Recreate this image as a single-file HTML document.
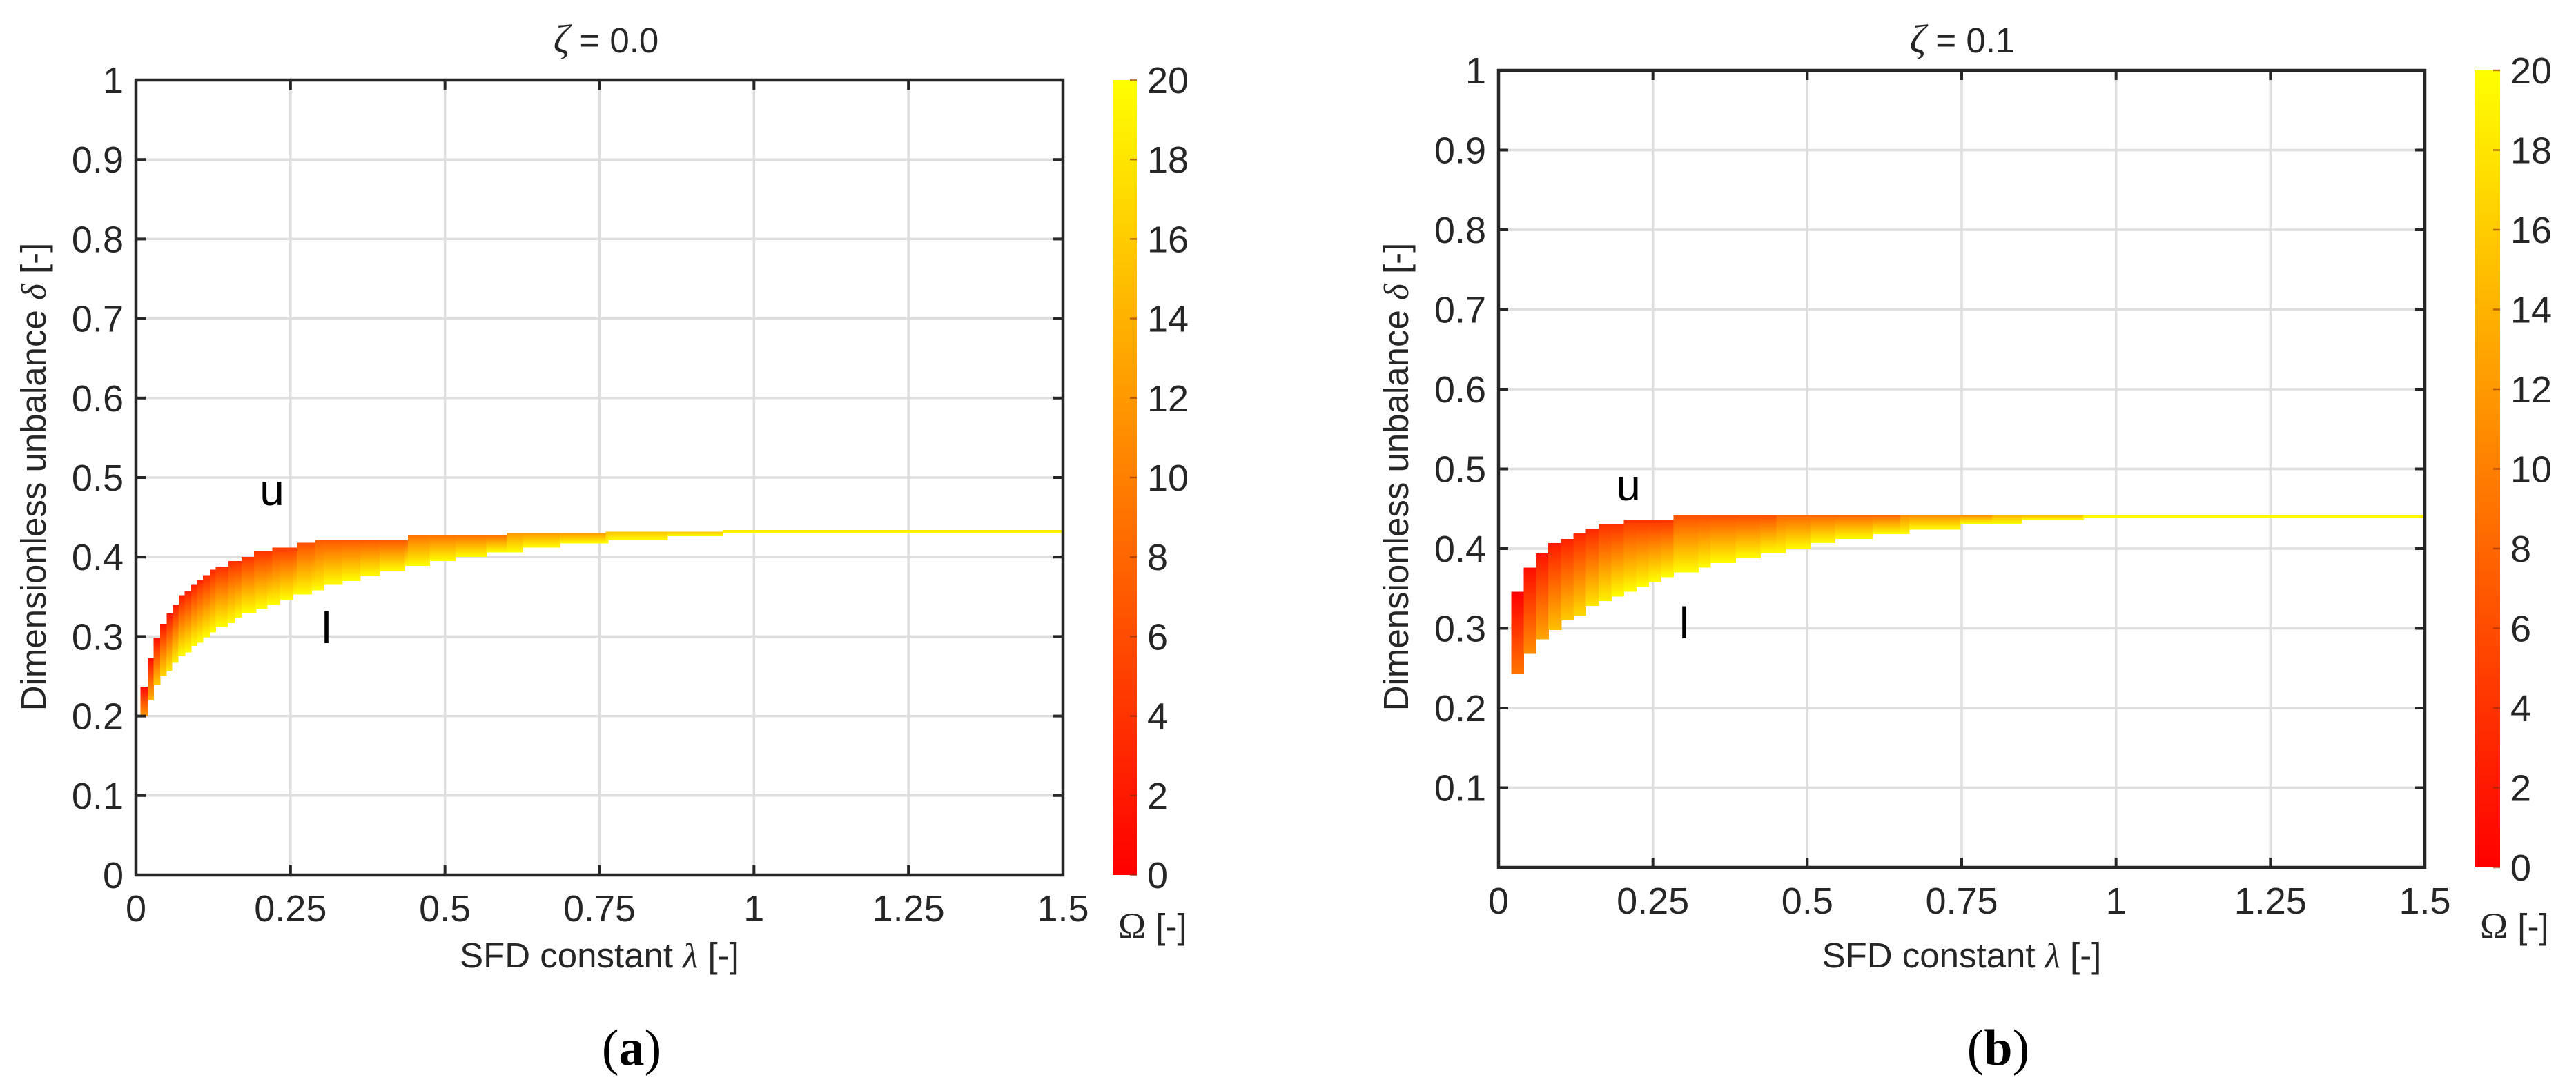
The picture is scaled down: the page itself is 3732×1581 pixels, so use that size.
<!DOCTYPE html>
<html>
<head>
<meta charset="utf-8">
<style>
  html,body{margin:0;padding:0;background:#fff;}
  svg{display:block;}
  .tick{font-family:"Liberation Sans",sans-serif;font-size:54px;fill:#262626;}
  .lab{font-family:"Liberation Sans",sans-serif;font-size:51px;fill:#262626;}
</style>
</head>
<body>
<svg id="fig" xmlns="http://www.w3.org/2000/svg" width="3732" height="1581" viewBox="0 0 3732 1581">
  <defs id="defs"></defs>
  <g id="panelA"></g>
  <g id="panelB"></g>
</svg>
<script>
// ---- shared axis data ----
const xTicks = [0, 0.25, 0.5, 0.75, 1, 1.25, 1.5];
const xTickLabels = ["0", "0.25", "0.5", "0.75", "1", "1.25", "1.5"];
const yTicks = [0, 0.1, 0.2, 0.3, 0.4, 0.5, 0.6, 0.7, 0.8, 0.9, 1];
const yTickLabelsA = ["0", "0.1", "0.2", "0.3", "0.4", "0.5", "0.6", "0.7", "0.8", "0.9", "1"];
const yTickLabelsB = ["", "0.1", "0.2", "0.3", "0.4", "0.5", "0.6", "0.7", "0.8", "0.9", "1"];
const cbTicks = [0, 2, 4, 6, 8, 10, 12, 14, 16, 18, 20];

// ---- panel (a) zeta = 0.0 ----
const lamUpperA = [0.0073,0.0188,0.0284,0.0393,0.0495,0.0598,0.0694,0.079,0.0893,0.0989,0.1085,0.1194,0.129,0.1495,0.1707,0.1912,0.2207,0.2604,0.29,0.44,0.60,0.76,0.95];
const delUpperA = [0.237,0.273,0.298,0.316,0.329,0.340,0.352,0.357,0.365,0.371,0.377,0.384,0.388,0.395,0.400,0.407,0.412,0.418,0.421,0.427,0.430,0.432,0.434];
const omUpperA  = [0.5,1,1,1.5,1.5,2,2,2.5,2.5,3,3,3,3.5,3.5,4,4,4.5,6,7,9,12,15,18];
const lamLowerA = [0.0073,0.0188,0.0284,0.039,0.049,0.058,0.068,0.079,0.089,0.099,0.108,0.119,0.129,0.148,0.160,0.171,0.194,0.212,0.233,0.254,0.284,0.304,0.334,0.363,0.394,0.435,0.475,0.517,0.567,0.626,0.686,0.764,0.86,0.95];
const delLowerA = [0.200,0.220,0.239,0.250,0.257,0.267,0.275,0.280,0.288,0.292,0.299,0.305,0.312,0.317,0.324,0.330,0.335,0.340,0.346,0.353,0.358,0.365,0.370,0.376,0.382,0.389,0.395,0.400,0.406,0.412,0.417,0.421,0.426,0.430];
const omLowerA  = [12,14,16,17,18,19,20,20,20,20,20,20,20,20,20,20,20,20,20,20,20,20,20,20,20,20,20,20,20,20,20,20,20,20];

// ---- panel (b) zeta = 0.1 ----
const lamUpperB = [0.0207,0.0407,0.0608,0.0807,0.1014,0.1214,0.1414,0.162,0.203,0.2835,0.45,0.65,0.80,0.947];
const delUpperB = [0.346,0.376,0.394,0.407,0.412,0.419,0.425,0.431,0.436,0.442,0.442,0.442,0.442,0.442];
const omUpperB  = [0,1,1.5,2,2.5,3,3,3.5,4,6,8,11,14,19];
const lamLowerB = [0.0207,0.0407,0.0608,0.0807,0.1014,0.1214,0.1414,0.162,0.183,0.203,0.223,0.243,0.263,0.2835,0.3235,0.343,0.384,0.424,0.465,0.505,0.545,0.606,0.665,0.7475,0.847,0.947];
const delLowerB = [0.243,0.268,0.286,0.298,0.310,0.316,0.328,0.334,0.340,0.346,0.352,0.358,0.364,0.370,0.376,0.382,0.388,0.394,0.399,0.407,0.412,0.418,0.424,0.431,0.436,0.438];
const omLowerB  = [9,11,13,15,16,17,18,19,20,20,20,20,20,20,20,20,20,20,20,20,20,20,20,20,20,20];

const NS = "http://www.w3.org/2000/svg";
const defs = document.getElementById("defs");
function mk(tag, attrs, parent) {
  const e = document.createElementNS(NS, tag);
  for (const k in attrs) e.setAttribute(k, attrs[k]);
  if (parent) parent.appendChild(e);
  return e;
}
function autumn(om) {
  const t = Math.max(0, Math.min(1, om / 20));
  return "rgb(255," + Math.round(255 * t) + ",0)";
}
function stepIdx(arr, v) {
  let idx = -1;
  for (let i = 0; i < arr.length; i++) if (arr[i] <= v + 1e-9) idx = i;
  return idx;
}
let gid = 0;

function drawPanel(g, cfg) {
  const X = v => cfg.x0 + (v - 0) / 1.5 * (cfg.x1 - cfg.x0);
  const Y = v => cfg.yb - v * (cfg.yb - cfg.yt);

  const grid = mk("g", {}, g);
  
  
  xTicks.forEach(t => {
    if (t > 0 && t < 1.5) mk("line", {x1:X(t), x2:X(t), y1:cfg.yt, y2:cfg.yb, stroke:"#dedede", "stroke-width":3.5}, grid);
  });
  yTicks.forEach(t => {
    if (t > 0 && t < 1) mk("line", {x1:cfg.x0, x2:cfg.x1, y1:Y(t), y2:Y(t), stroke:"#dedede", "stroke-width":3.5}, grid);
  });

  const region = mk("g", {"shape-rendering":"crispEdges"}, g);
  
  
  const edges = Array.from(new Set(cfg.lamU.concat(cfg.lamL))).sort((a,b)=>a-b);
  edges.push(1.5);
  for (let i = 0; i < edges.length - 1; i++) {
    const e0 = edges[i], e1 = edges[i+1];
    const iu = stepIdx(cfg.lamU, e0), il = stepIdx(cfg.lamL, e0);
    if (iu < 0 || il < 0) continue;
    const yu = Y(cfg.delU[iu]), yl = Y(cfg.delL[il]);
    if (yl <= yu) continue;
    const id = "grad" + (gid++);
    const lg = mk("linearGradient", {id:id, gradientUnits:"userSpaceOnUse", x1:0, x2:0, y1:yu, y2:yl}, defs);
    mk("stop", {offset:0, "stop-color":autumn(cfg.omU[iu])}, lg);
    mk("stop", {offset:1, "stop-color":autumn(cfg.omL[il])}, lg);
    const r = mk("rect", {x:X(e0), y:yu, width:X(e1)-X(e0)+0.6, height:yl-yu, fill:"url(#"+id+")"}, region);
    
    
  }

  const ax = mk("g", {}, g);
  
  
  mk("rect", {x:cfg.x0, y:cfg.yt, width:cfg.x1-cfg.x0, height:cfg.yb-cfg.yt, fill:"none", stroke:"#262626", "stroke-width":4.5}, ax);
  const TL = 14;
  xTicks.forEach((t, i) => {
    mk("line", {x1:X(t), x2:X(t), y1:cfg.yb, y2:cfg.yb-TL, stroke:"#262626", "stroke-width":4}, ax);
    mk("line", {x1:X(t), x2:X(t), y1:cfg.yt, y2:cfg.yt+TL, stroke:"#262626", "stroke-width":4}, ax);
    const tx = mk("text", {x:X(t), y:cfg.yb+67, "text-anchor":"middle", class:"tick"}, ax);
    tx.textContent = xTickLabels[i];
    
    
  });
  yTicks.forEach((t, i) => {
    mk("line", {x1:cfg.x0, x2:cfg.x0+TL, y1:Y(t), y2:Y(t), stroke:"#262626", "stroke-width":4}, ax);
    mk("line", {x1:cfg.x1, x2:cfg.x1-TL, y1:Y(t), y2:Y(t), stroke:"#262626", "stroke-width":4}, ax);
    const lbl = cfg.yLabels[i];
    if (lbl) {
      const ty = mk("text", {x:cfg.x0-18, y:Y(t)+19, "text-anchor":"end", class:"tick"}, ax);
      ty.textContent = lbl;
      
      
    }
  });

  const cb = mk("g", {}, g);
  
  
  const cid = "cb" + (gid++);
  const cg = mk("linearGradient", {id:cid, x1:0, x2:0, y1:1, y2:0}, defs);
  mk("stop", {offset:0, "stop-color":"rgb(255,0,0)"}, cg);
  mk("stop", {offset:1, "stop-color":"rgb(255,255,0)"}, cg);
  mk("rect", {x:cfg.cbx0, y:cfg.yt, width:cfg.cbx1-cfg.cbx0, height:cfg.yb-cfg.yt, fill:"url(#"+cid+")"}, cb);
  const CY = v => cfg.yb - v / 20 * (cfg.yb - cfg.yt);
  cbTicks.forEach(t => {
    mk("line", {x1:cfg.cbx1-10, x2:cfg.cbx1, y1:CY(t), y2:CY(t), stroke:"#8a2a00", "stroke-width":2.5, opacity:0.6}, cb);
    const ct = mk("text", {x:cfg.cbx1+15, y:CY(t)+19, class:"tick"}, cb);
    ct.textContent = String(t);
    
    
  });
  const om = mk("text", {x:cfg.cbx0+8, y:1360, class:"lab"}, cb);
  
  
  const s1 = mk("tspan", {"font-family":"Liberation Serif, serif", "font-size":"54"}, om); s1.textContent = "Ω";
  const s2 = mk("tspan", {}, om); s2.textContent = " [-]";

  const ti = mk("text", {x:cfg.titleX, y:76, "text-anchor":"middle", class:"lab", "font-size":"54"}, g);
  
  
  const z1 = mk("tspan", {"font-family":"Liberation Serif, serif", "font-style":"italic", "font-size":"58"}, ti); z1.textContent = "ζ";
  const z2 = mk("tspan", {}, ti); z2.textContent = cfg.titleRest;

  const xl = mk("text", {x:(cfg.x0+cfg.x1)/2, y:1402, "text-anchor":"middle", class:"lab"}, g);
  
  
  const x1s = mk("tspan", {}, xl); x1s.textContent = "SFD constant ";
  const x2s = mk("tspan", {"font-family":"Liberation Serif, serif", "font-style":"italic"}, xl); x2s.textContent = "λ";
  const x3s = mk("tspan", {}, xl); x3s.textContent = " [-]";

  const yl = mk("text", {x:0, y:0, "text-anchor":"middle", class:"lab", transform:"translate(" + (cfg.ylx) + ",691) rotate(-90)"}, g);
  
  
  const y1s = mk("tspan", {}, yl); y1s.textContent = "Dimensionless unbalance ";
  const y2s = mk("tspan", {"font-family":"Liberation Serif, serif", "font-style":"italic"}, yl); y2s.textContent = "δ";
  const y3s = mk("tspan", {}, yl); y3s.textContent = " [-]";

  const u = mk("text", {x:cfg.uX, y:cfg.uY+16, "text-anchor":"middle", "font-family":"Liberation Sans, sans-serif", "font-size":"64", fill:"#000"}, g);
  u.textContent = "u";
  
  
  const l = mk("text", {x:cfg.lX, y:cfg.lY+24, "text-anchor":"middle", "font-family":"Liberation Sans, sans-serif", "font-size":"64", fill:"#000"}, g);
  l.textContent = "l";
  
  

  const cap = mk("text", {x:cfg.capX, y:1543, "text-anchor":"middle", "font-family":"Liberation Serif, serif", "font-size":"74", fill:"#000"}, g);
  
  
  const c1 = mk("tspan", {}, cap); c1.textContent = "(";
  const c2 = mk("tspan", {"font-weight":"bold"}, cap); c2.textContent = cfg.cap;
  const c3 = mk("tspan", {}, cap); c3.textContent = ")";
}

drawPanel(document.getElementById("panelA"), {
  x0:197, x1:1540, yt:116, yb:1268, cbx0:1612, cbx1:1647,
  lamU:lamUpperA, delU:delUpperA, omU:omUpperA, lamL:lamLowerA, delL:delLowerA, omL:omLowerA,
  yLabels:yTickLabelsA, titleX:878, titleRest:"  = 0.0", ylx:66,
  uX:394, uY:716, lX:473, lY:908, capX:915, cap:"a"
});
drawPanel(document.getElementById("panelB"), {
  x0:2171, x1:3513, yt:102, yb:1257, cbx0:3585, cbx1:3622,
  lamU:lamUpperB, delU:delUpperB, omU:omUpperB, lamL:lamLowerB, delL:delLowerB, omL:omLowerB,
  yLabels:yTickLabelsB, titleX:2843, titleRest:" = 0.1", ylx:2040,
  uX:2359, uY:709, lX:2440, lY:901, capX:2895, cap:"b"
});
</script>
</body>
</html>
